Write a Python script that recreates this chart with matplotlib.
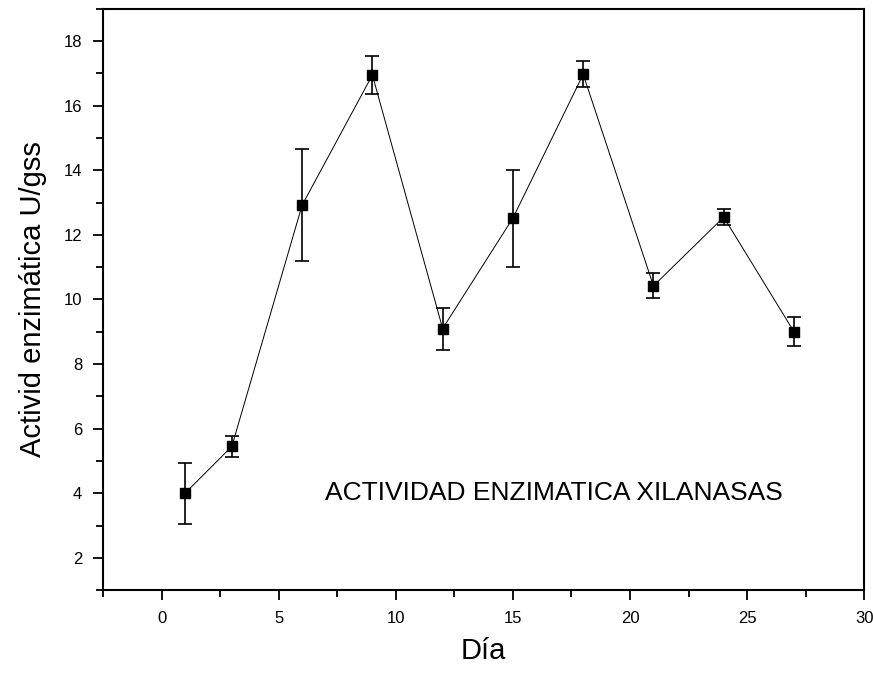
import matplotlib
matplotlib.use('Agg')
import matplotlib.pyplot as plt
from matplotlib.ticker import MultipleLocator

plt.rcParams['font.family'] = ['Liberation Sans', 'DejaVu Sans']

dia = [1, 3, 6, 9, 12, 15, 18, 21, 24, 27]
actividad = [4.0, 5.45, 12.92, 16.95, 9.1, 12.52, 16.97, 10.42, 12.55, 9.0]
error = [0.95, 0.33, 1.73, 0.58, 0.65, 1.5, 0.4, 0.39, 0.25, 0.45]

fig = plt.figure(figsize=(8.73, 6.76), dpi=100)
ax = fig.add_axes([0.118, 0.127, 0.872, 0.86])

ax.errorbar(dia, actividad, yerr=error, color='black', linewidth=0.7,
            marker='s', markersize=7, elinewidth=1.2, capsize=5, capthick=1.2)

ax.text(16.75, 4.0, 'ACTIVIDAD ENZIMATICA XILANASAS', fontsize=19,
        va='center', ha='center')

ax.set_xlim(-2.5, 30)
ax.set_ylim(1, 19)
ax.xaxis.set_major_locator(MultipleLocator(5))
ax.xaxis.set_minor_locator(MultipleLocator(2.5))
ax.yaxis.set_major_locator(MultipleLocator(2))
ax.yaxis.set_minor_locator(MultipleLocator(1))
ax.tick_params(which='both', direction='out', width=1.3, labelsize=12)
ax.tick_params(which='major', length=7, pad=8)
ax.tick_params(which='minor', length=5)
for s in ax.spines.values():
    s.set_linewidth(1.5)

ax.set_xlabel('Día', fontsize=21, labelpad=8)
ax.set_ylabel('Activid enzimática U/gss', fontsize=21, labelpad=12)

fig.savefig('out.png', dpi=100)
